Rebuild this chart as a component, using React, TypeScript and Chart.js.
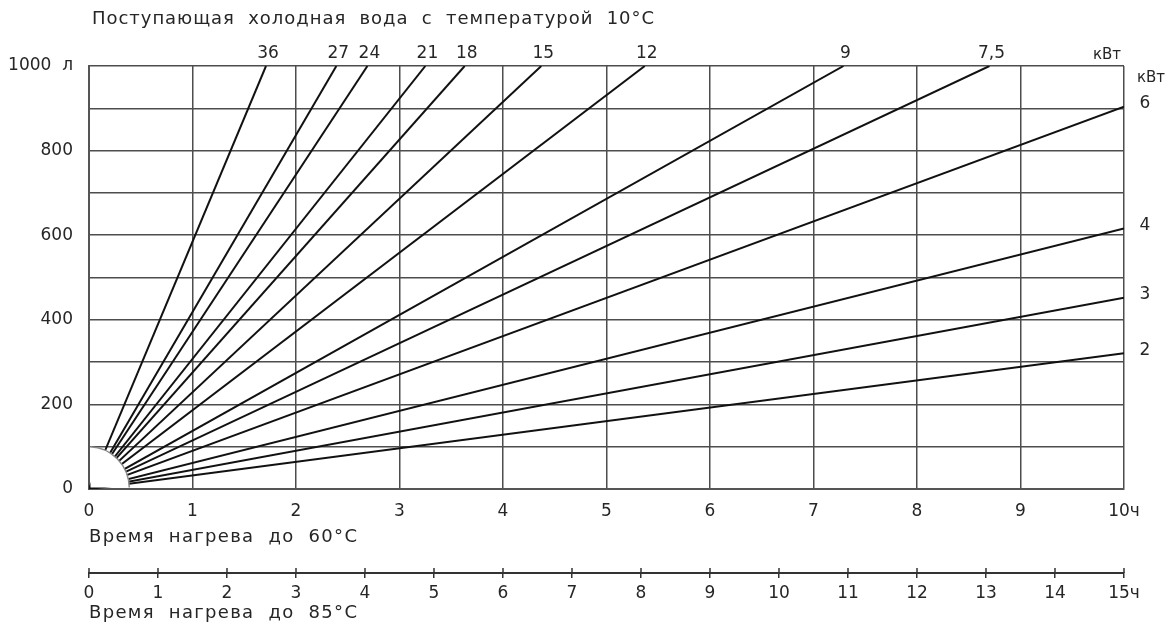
import { useEffect, useRef } from 'react';
import { Chart, registerables } from 'chart.js';

Chart.register(...registerables);

// ---- data ----
const powerLabels = ['36', '27', '24', '21', '18', '15', '12', '9', '7,5', '6', '4', '3', '2'];
const endHours = [1.71, 2.39, 2.69, 3.25, 3.63, 4.37, 5.37, 7.29, 8.7, 10, 10, 10, 10];
const endLitres = [1000, 1000, 1000, 1000, 1000, 1000, 1000, 1000, 1000, 904, 616, 452, 321];
const volumeMax = 1000;
const volumeGridStep = 100;
const volumeLabelStep = 200;
const hoursTo60Max = 10;
const hoursTo85Max = 15;
const arcHours = 0.39;
const arcLitres = 100;

const titleTop = 'Поступающая  холодная  вода  с  температурой  10°C';
const title60 = 'Время  нагрева  до  60°C';
const title85 = 'Время  нагрева  до  85°C';
const unitPower = 'кВт';
const unitVolume = 'л';
const unitHours = 'ч';

const FONT = "'DejaVu Sans', sans-serif";
const TEXT = '#262626';
const GRID = '#4d4d4d';

function fitText(ctx: CanvasRenderingContext2D, text: string, x: number, y: number, width: number) {
  ctx.save();
  (ctx as any).letterSpacing = '0px';
  const w = ctx.measureText(text).width;
  const ls = Math.max(0, (width - w) / Math.max(1, text.length - 1));
  (ctx as any).letterSpacing = `${ls}px`;
  ctx.fillText(text, x, y);
  ctx.restore();
}

const overlayPlugin = {
  id: 'overlay',
  afterDatasetsDraw(chart: any) {
    const { ctx, chartArea, scales } = chart;
    const xs = scales.x;
    const ys = scales.y;
    const cx = xs.getPixelForValue(0);
    const cy = ys.getPixelForValue(0);
    const rx = xs.getPixelForValue(arcHours) - cx;
    const ry = cy - ys.getPixelForValue(arcLitres);
    ctx.save();
    ctx.beginPath();
    ctx.rect(chartArea.left + 1.5, chartArea.top, chartArea.width, chartArea.height - 1.5);
    ctx.clip();
    ctx.beginPath();
    ctx.moveTo(cx, cy);
    ctx.ellipse(cx, cy, rx, ry, 0, -Math.PI / 2, 0);
    ctx.closePath();
    ctx.fillStyle = '#ffffff';
    ctx.fill();
    ctx.beginPath();
    ctx.ellipse(cx, cy, rx, ry, 0, -Math.PI / 2, 0);
    ctx.strokeStyle = '#8a8a8a';
    ctx.lineWidth = 1.5;
    ctx.stroke();
    ctx.restore();
  },
  afterDraw(chart: any) {
    const { ctx, chartArea, scales } = chart;
    const xs = scales.x;
    const ys = scales.y;
    const x2 = scales.x2;
    ctx.save();
    ctx.fillStyle = TEXT;
    ctx.font = `17px ${FONT}`;
    ctx.textBaseline = 'middle';
    ctx.textAlign = 'center';
    // power labels
    powerLabels.forEach((lab, i) => {
      if (endLitres[i] >= volumeMax) {
        ctx.fillText(lab, xs.getPixelForValue(endHours[i]) + 2, chartArea.top - 12);
      } else {
        ctx.fillText(lab, chartArea.right + 21, ys.getPixelForValue(endLitres[i]) - 3);
      }
    });
    ctx.font = `15px ${FONT}`;
    ctx.fillText(unitPower, chartArea.right - 17, chartArea.top - 11);
    ctx.fillText(unitPower, chartArea.right + 27, chartArea.top + 12);
    // titles
    ctx.textAlign = 'left';
    ctx.font = `18px ${FONT}`;
    fitText(ctx, titleTop, chartArea.left + 3, 19, 562);
    fitText(ctx, title60, chartArea.left, 537, 268);
    fitText(ctx, title85, chartArea.left, 613, 268);
    // upward tick marks of the 85°C axis
    ctx.strokeStyle = '#333';
    ctx.lineWidth = 1.5;
    for (let h = 0; h <= hoursTo85Max; h++) {
      const px = x2.getPixelForValue(h);
      ctx.beginPath();
      ctx.moveTo(px, x2.top - 5);
      ctx.lineTo(px, x2.top);
      ctx.stroke();
    }
    ctx.restore();
  },
};

export default function App() {
  const ref = useRef<HTMLCanvasElement | null>(null);
  useEffect(() => {
    if (!ref.current) return;
    const datasets = powerLabels.map((lab, i) => ({
      label: lab,
      data: [
        { x: 0, y: 0 },
        { x: endHours[i], y: endLitres[i] },
      ],
      showLine: true,
      borderColor: '#111',
      borderWidth: 2,
      pointRadius: 0,
      fill: false,
    }));
    const chart = new Chart(ref.current, {
      type: 'scatter',
      data: { datasets },
      options: {
        animation: false,
        responsive: false,
        devicePixelRatio: 1,
        layout: { padding: { left: 0, right: 49, top: 66, bottom: 0 } },
        plugins: { legend: { display: false }, tooltip: { enabled: false }, title: { display: false } },
        scales: {
          x: {
            type: 'linear',
            position: 'bottom',
            min: 0,
            max: hoursTo60Max,
            weight: 0,
            afterFit: (s: any) => {
              s.height = 84;
            },
            ticks: {
              stepSize: 1,
              padding: 12,
              color: TEXT,
              font: { family: FONT, size: 17 },
              callback: (v: any) => (v === hoursTo60Max ? `${v}${unitHours}` : `${v}`),
            },
            grid: { color: GRID, lineWidth: 1.5, drawTicks: false },
            border: { color: '#555', width: 2 },
          },
          x2: {
            type: 'linear',
            position: 'bottom',
            min: 0,
            max: hoursTo85Max,
            weight: 1,
            afterFit: (s: any) => {
              s.height = 53;
            },
            ticks: {
              stepSize: 1,
              padding: 5,
              color: TEXT,
              font: { family: FONT, size: 17 },
              callback: (v: any) => (v === hoursTo85Max ? `${v}${unitHours}` : `${v}`),
            },
            grid: { drawOnChartArea: false, drawTicks: true, tickLength: 5, color: '#333', lineWidth: 1.5 },
            border: { color: '#333', width: 2 },
          },
          y: {
            type: 'linear',
            min: 0,
            max: volumeMax,
            afterFit: (s: any) => {
              s.width = 89;
            },
            ticks: {
              stepSize: volumeGridStep,
              padding: 16,
              color: TEXT,
              font: { family: FONT, size: 17 },
              callback: (v: any) =>
                v % volumeLabelStep === 0 ? (v === volumeMax ? `${v}  ${unitVolume}` : `${v}`) : '',
            },
            grid: { color: GRID, lineWidth: 1.5, drawTicks: false },
            border: { color: '#555', width: 2 },
          },
        },
      },
      plugins: [overlayPlugin],
    } as any);
    return () => chart.destroy();
  }, []);
  return (
    <div style={{ position: 'fixed', left: 0, top: 0, width: 1173, height: 626, background: '#fff' }}>
      <canvas ref={ref} width={1173} height={626} style={{ display: 'block' }} />
    </div>
  );
}
